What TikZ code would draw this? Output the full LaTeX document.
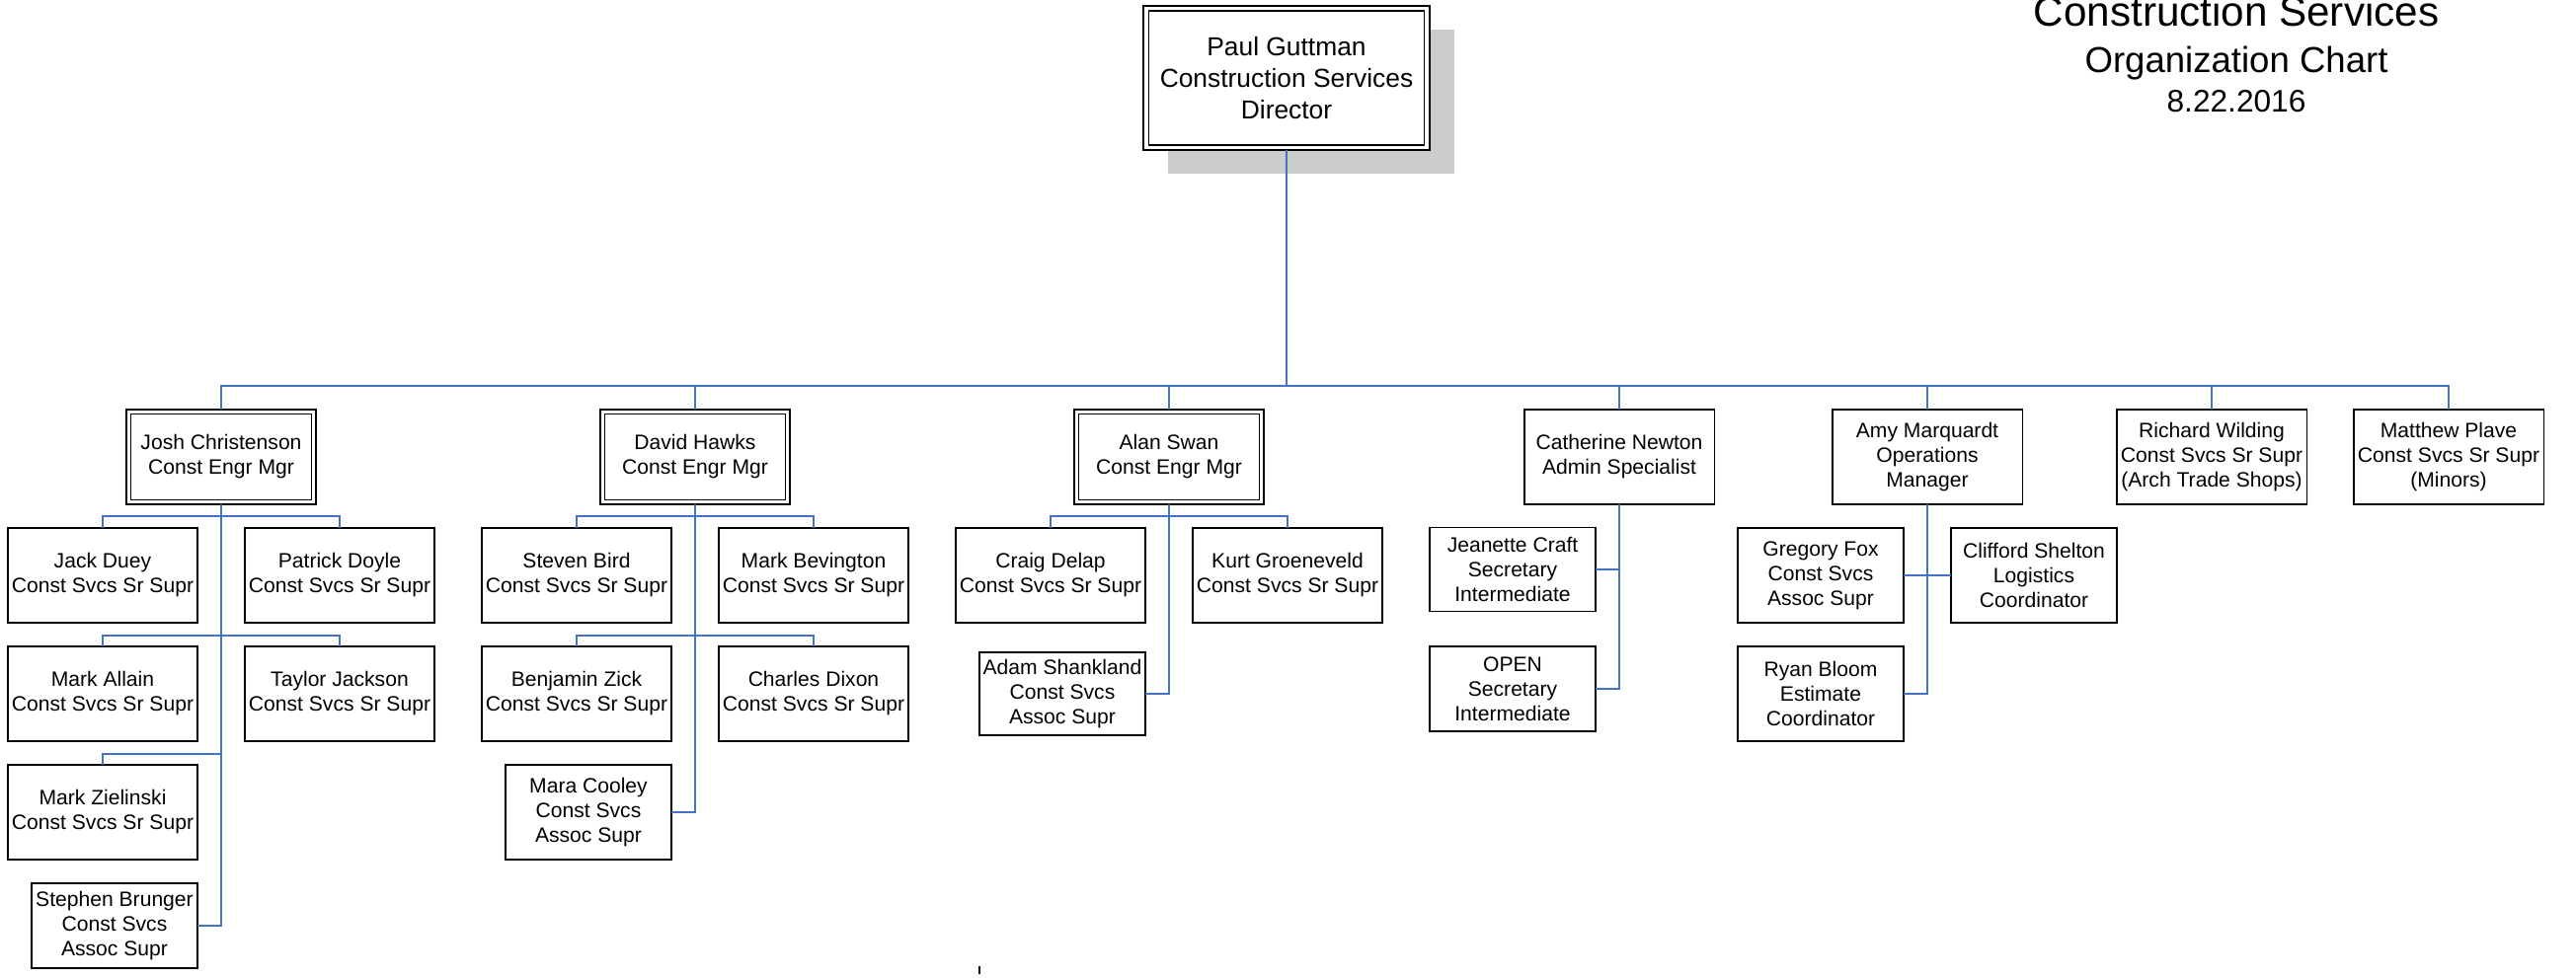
\documentclass[tikz,border=0pt]{standalone}
\usepackage{fontspec}
\setmainfont{Liberation Sans}
\definecolor{connblue}{RGB}{68,114,196}
\definecolor{shadowgray}{RGB}{204,204,204}
\begin{document}
\begin{tikzpicture}[x=0.01cm,y=-0.01cm,
  conn/.style={draw=connblue,line width=0.5pt},
  box/.style={draw=black,line width=0.5pt,fill=white,align=center,inner sep=0pt,outer sep=0pt,
    font=\fontsize{6}{7.1}\selectfont},
  std/.style={box,minimum width=1.926cm,minimum height=0.96cm},
  assoc/.style={box,minimum width=1.686cm,minimum height=0.96cm},
  mgr/.style={box,line width=0.55pt,minimum width=1.923cm,minimum height=0.963cm,
    path picture={\draw[line width=0.38pt]
      ([shift={(0.047cm,-0.047cm)}]path picture bounding box.north west) rectangle
      ([shift={(-0.047cm,0.047cm)}]path picture bounding box.south east);}},
  lead/.style={box,line width=0.6pt,minimum width=2.89cm,minimum height=1.46cm,
    font=\fontsize{7.5}{9}\selectfont,
    path picture={\draw[line width=0.38pt]
      ([shift={(0.05cm,-0.05cm)}]path picture bounding box.north west) rectangle
      ([shift={(-0.05cm,0.05cm)}]path picture bounding box.south east);}},
  ttl/.style={anchor=base,inner sep=0pt}
]
\useasboundingbox (0,0) rectangle (2609,990);

% shadow of the director box
\fill[shadowgray] (1183,30) rectangle (1473,176);

% title
\node[ttl,font=\fontsize{12}{14}\selectfont] (t1) at (2265,26) {Construction Services};
\node[ttl,font=\fontsize{10.4}{12}\selectfont] (t2) at (2265,73) {Organization Chart};
\node[ttl,font=\fontsize{9}{11}\selectfont] (t3) at (2265,113) {8.22.2016};

% director
\node[lead] (pg) at (1303,79) {Paul Guttman\\Construction Services\\Director};

% level 1
\node[mgr] (jc) at (224,463) {Josh Christenson\\Const Engr Mgr};
\node[mgr] (dh) at (704,463) {David Hawks\\Const Engr Mgr};
\node[mgr] (as) at (1184,463) {Alan Swan\\Const Engr Mgr};
\node[std,minimum height=0.963cm] (cn) at (1640,463) {Catherine Newton\\Admin Specialist};
\node[std,minimum height=0.963cm] (am) at (1952,463) {Amy Marquardt\\Operations\\Manager};
\node[std,minimum height=0.963cm] (rw) at (2240,463) {Richard Wilding\\Const Svcs Sr Supr\\(Arch Trade Shops)};
\node[std,minimum height=0.963cm] (mp) at (2480,463) {Matthew Plave\\Const Svcs Sr Supr\\(Minors)};

% Josh Christenson team
\node[std] (jd) at (104,583) {Jack Duey\\Const Svcs Sr Supr};
\node[std] (pd) at (344,583) {Patrick Doyle\\Const Svcs Sr Supr};
\node[std] (ma) at (104,703) {Mark Allain\\Const Svcs Sr Supr};
\node[std] (tj) at (344,703) {Taylor Jackson\\Const Svcs Sr Supr};
\node[std] (mz) at (104,823) {Mark Zielinski\\Const Svcs Sr Supr};
\node[assoc,minimum height=0.86cm] (sb) at (116,938) {Stephen Brunger\\Const Svcs\\Assoc Supr};

% David Hawks team
\node[std] (sbi) at (584,583) {Steven Bird\\Const Svcs Sr Supr};
\node[std] (mb) at (824,583) {Mark Bevington\\Const Svcs Sr Supr};
\node[std] (bz) at (584,703) {Benjamin Zick\\Const Svcs Sr Supr};
\node[std] (cd) at (824,703) {Charles Dixon\\Const Svcs Sr Supr};
\node[assoc] (mc) at (596,823) {Mara Cooley\\Const Svcs\\Assoc Supr};

% Alan Swan team
\node[std] (cde) at (1064,583) {Craig Delap\\Const Svcs Sr Supr};
\node[std] (kg) at (1304,583) {Kurt Groeneveld\\Const Svcs Sr Supr};
\node[assoc,minimum height=0.84cm] (ash) at (1076,703) {Adam Shankland\\Const Svcs\\Assoc Supr};

% Catherine Newton team
\node[assoc,minimum height=0.85cm] (jcr) at (1532,577) {Jeanette Craft\\Secretary\\Intermediate};
\node[assoc,minimum height=0.86cm] (op) at (1532,698) {OPEN\\Secretary\\Intermediate};

% Amy Marquardt team
\node[assoc] (gf) at (1844,583) {Gregory Fox\\Const Svcs\\Assoc Supr};
\node[assoc] (cs) at (2060,583) {Clifford Shelton\\Logistics\\Coordinator};
\node[assoc] (rb) at (1844,703) {Ryan Bloom\\Estimate\\Coordinator};

% connector levels
\coordinate (bus) at (0,391);
\coordinate (r1) at (0,523);
\coordinate (r2) at (0,644);
\coordinate (r3) at (0,764);

% director to level 1
\draw[conn] (pg.south) -- (pg.south |- bus);
\draw[conn] (jc.north) -- (jc.north |- bus) -- (mp.north |- bus) -- (mp.north);
\foreach \n in {dh,as,cn,am,rw} \draw[conn] (\n.north) -- (\n.north |- bus);

% Josh Christenson
\draw[conn] (jc.south) |- (sb.east);
\draw[conn] (jd.north) -- (jd.north |- r1) -- (pd.north |- r1) -- (pd.north);
\draw[conn] (ma.north) -- (ma.north |- r2) -- (tj.north |- r2) -- (tj.north);
\draw[conn] (mz.north) |- (jc.south |- r3);

% David Hawks
\draw[conn] (dh.south) |- (mc.east);
\draw[conn] (sbi.north) -- (sbi.north |- r1) -- (mb.north |- r1) -- (mb.north);
\draw[conn] (bz.north) -- (bz.north |- r2) -- (cd.north |- r2) -- (cd.north);

% Alan Swan
\draw[conn] (as.south) |- (ash.east);
\draw[conn] (cde.north) -- (cde.north |- r1) -- (kg.north |- r1) -- (kg.north);

% Catherine Newton
\draw[conn] (cn.south) |- (op.east);
\draw[conn] (jcr.east) -- (jcr.east -| cn.south);

% Amy Marquardt
\draw[conn] (am.south) |- (rb.east);
\draw[conn] (gf.east) -- (cs.west);

% small mark at the bottom
\draw[line width=0.3pt] (992,979) -- (992,987);
\end{tikzpicture}
\end{document}
